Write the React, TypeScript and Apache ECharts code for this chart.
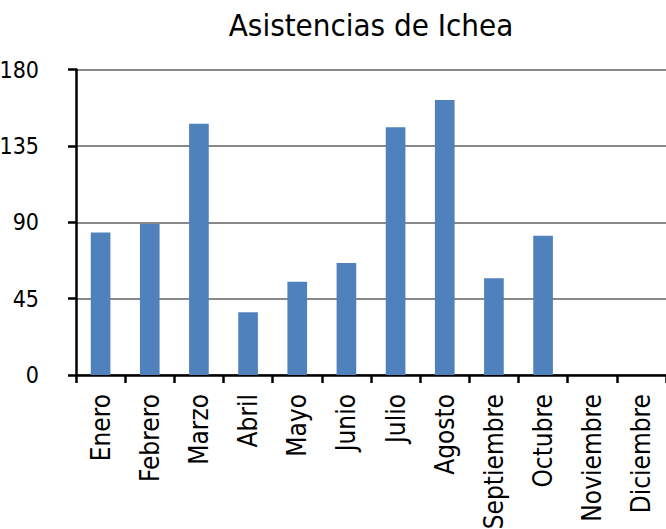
import React, { useEffect, useRef } from "react";
import * as echarts from "echarts";

const TITLE = "Asistencias de Ichea";
const MONTHS = [
  "Enero", "Febrero", "Marzo", "Abril", "Mayo", "Junio",
  "Julio", "Agosto", "Septiembre", "Octubre", "Noviembre", "Diciembre",
];
const ASISTENCIAS: (number | null)[] = [84, 89, 148, 37, 55, 66, 146, 162, 57, 82, null, null];
const Y_MIN = 0;
const Y_MAX = 180;
const Y_STEP = 45;

const FONT = "'DejaVu Sans Condensed', 'Liberation Sans', sans-serif";

export default function App() {
  const ref = useRef<HTMLDivElement>(null);
  useEffect(() => {
    if (!ref.current) return;
    const chart = echarts.init(ref.current, null, { renderer: "svg" });
    chart.setOption({
      animation: false,
      backgroundColor: "#ffffff",
      title: {
        text: TITLE,
        left: 366,
        top: 4,
        textAlign: "center",
        textStyle: { fontFamily: FONT, fontSize: 31, fontWeight: "normal", color: "#000" },
      },
      grid: {
        left: 76,
        right: 0,
        top: 69.5,
        bottom: 154,
        containLabel: false,
        outerBoundsMode: "none",
      },
      xAxis: {
        type: "category",
        data: MONTHS,
        boundaryGap: true,
        axisLine: { show: true, lineStyle: { color: "#000", width: 2.5 } },
        axisTick: { show: true, length: 8, inside: false, alignWithLabel: false, lineStyle: { color: "#000", width: 2.5 } },
        axisLabel: {
          rotate: 90,
          margin: 19,
          interval: 0,
          fontFamily: FONT,
          fontSize: 26,
          color: "#000",
        },
        splitLine: { show: false },
      },
      yAxis: {
        type: "value",
        min: Y_MIN,
        max: Y_MAX,
        interval: Y_STEP,
        axisLine: { show: true, lineStyle: { color: "#000", width: 2.5 } },
        axisTick: { show: true, length: 8, lineStyle: { color: "#000", width: 2.5 } },
        axisLabel: { margin: 37, fontFamily: FONT, fontSize: 23, color: "#000" },
        splitLine: { show: true, lineStyle: { color: "#888888", width: 2 } },
      },
      series: [
        {
          type: "bar",
          data: ASISTENCIAS,
          barWidth: "40%",
          itemStyle: { color: "#4F81BD" },
        },
      ],
    });
    return () => chart.dispose();
  }, []);
  return (
    <div
      ref={ref}
      style={{ position: "absolute", left: 0, top: 0, width: 666, height: 529 }}
    />
  );
}
